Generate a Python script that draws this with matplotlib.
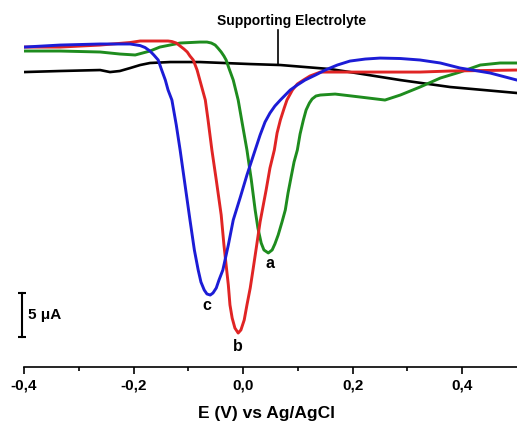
import matplotlib
matplotlib.use("Agg")
import matplotlib.pyplot as plt
from matplotlib.ticker import FixedLocator, FuncFormatter

plt.rcParams['font.family'] = ['Liberation Sans', 'DejaVu Sans']

# potential (V vs Ag/AgCl) and current (uA)
E_a = [-0.400, -0.334, -0.261, -0.225, -0.197, -0.170, -0.152, -0.115, -0.079, -0.066,
       -0.058, -0.051, -0.046, -0.040, -0.035, -0.031, -0.026, -0.018, -0.009, -0.002,
       0.007, 0.015, 0.022, 0.027, 0.033, 0.038, 0.046, 0.053, 0.058, 0.064,
       0.071, 0.077, 0.082, 0.088, 0.093, 0.099, 0.104, 0.110, 0.115, 0.121,
       0.126, 0.133, 0.141, 0.168, 0.214, 0.259, 0.287, 0.323, 0.360, 0.396,
       0.433, 0.469, 0.500]
I_a = [-1.25, -1.25, -1.36, -1.59, -1.70, -1.25, -0.80, -0.34, -0.23, -0.23,
       -0.34, -0.57, -0.91, -1.36, -1.82, -2.27, -3.18, -4.55, -6.82, -9.32,
       -12.50, -15.91, -19.32, -21.36, -23.07, -23.86, -24.20, -23.86, -23.18, -22.16,
       -20.68, -19.32, -17.39, -15.45, -13.86, -12.50, -10.68, -9.09, -7.95, -7.16,
       -6.70, -6.36, -6.25, -6.14, -6.48, -6.82, -6.25, -5.34, -4.32, -3.64,
       -2.84, -2.61, -2.61]

E_b = [-0.400, -0.334, -0.261, -0.206, -0.188, -0.152, -0.137, -0.130, -0.122, -0.115,
       -0.108, -0.102, -0.097, -0.091, -0.084, -0.079, -0.073, -0.069, -0.064, -0.057,
       -0.049, -0.040, -0.035, -0.031, -0.027, -0.024, -0.020, -0.015, -0.009, -0.004,
       0.002, 0.007, 0.013, 0.018, 0.024, 0.031, 0.042, 0.049, 0.057, 0.062,
       0.068, 0.075, 0.080, 0.090, 0.099, 0.110, 0.122, 0.141, 0.195, 0.250,
       0.323, 0.378, 0.500]
I_b = [-0.80, -0.80, -0.57, -0.28, -0.11, -0.11, -0.11, -0.17, -0.34, -0.68,
       -1.02, -1.36, -1.82, -2.27, -3.41, -4.55, -5.91, -6.82, -9.09, -12.50,
       -15.91, -19.89, -23.30, -25.57, -27.84, -30.11, -31.59, -32.73, -33.30, -32.95,
       -31.82, -30.11, -28.18, -26.14, -23.64, -20.68, -17.05, -14.55, -12.50, -10.57,
       -9.09, -7.73, -6.82, -5.68, -5.00, -4.55, -4.09, -3.64, -3.64, -3.64,
       -3.64, -3.52, -3.41]

E_c = [-0.400, -0.334, -0.261, -0.206, -0.188, -0.179, -0.170, -0.163, -0.155, -0.150,
       -0.142, -0.137, -0.130, -0.122, -0.115, -0.106, -0.097, -0.089, -0.082, -0.077,
       -0.071, -0.066, -0.060, -0.055, -0.049, -0.044, -0.037, -0.027, -0.018, -0.005,
       0.007, 0.022, 0.031, 0.040, 0.049, 0.058, 0.068, 0.086, 0.099, 0.113,
       0.132, 0.150, 0.172, 0.195, 0.223, 0.250, 0.287, 0.323, 0.360, 0.396,
       0.451, 0.500]
I_c = [-0.80, -0.57, -0.45, -0.45, -0.63, -0.85, -1.25, -1.70, -2.27, -3.18,
       -4.55, -5.68, -6.82, -9.66, -12.50, -16.48, -20.45, -23.86, -26.14, -27.50,
       -28.41, -28.86, -28.98, -28.75, -28.18, -27.27, -26.14, -23.30, -20.45, -17.84,
       -15.34, -12.50, -10.80, -9.32, -8.30, -7.50, -6.82, -5.68, -5.11, -4.55,
       -3.98, -3.41, -2.84, -2.39, -2.16, -2.05, -2.10, -2.27, -2.61, -3.18,
       -3.75, -4.55]

E_blank = [-0.400, -0.334, -0.261, -0.243, -0.225, -0.206, -0.188, -0.170, -0.133, -0.079,
           0.013, 0.068, 0.159, 0.195, 0.287, 0.378, 0.500]
I_blank = [-3.64, -3.52, -3.41, -3.64, -3.52, -3.18, -2.84, -2.61, -2.50, -2.50,
           -2.73, -2.84, -3.30, -3.64, -4.55, -5.34, -6.02]

major_ticks = [-0.4, -0.2, 0.0, 0.2, 0.4]
minor_ticks = [-0.3, -0.1, 0.1, 0.3]

fig = plt.figure(figsize=(5.17, 4.23), dpi=100)
ax = fig.add_axes([24 / 517, 56 / 423, 493 / 517, 367 / 423])

ax.plot(E_blank, I_blank, color='black', lw=1.9)
ax.plot(E_a, I_a, color='#1e8c1e', lw=2.1)
ax.plot(E_b, I_b, color='#e02424', lw=2.1)
ax.plot(E_c, I_c, color='#1c1cd6', lw=2.1)

ax.set_xlim(-0.4, 0.5)
ax.set_ylim(-37.16, 4.55)

for side in ['left', 'right', 'top']:
    ax.spines[side].set_visible(False)
ax.spines['bottom'].set_linewidth(1.2)
ax.set_yticks([])
ax.xaxis.set_major_locator(FixedLocator(major_ticks))
ax.xaxis.set_minor_locator(FixedLocator(minor_ticks))
ax.xaxis.set_major_formatter(FuncFormatter(lambda v, p: f"{v:.1f}".replace('.', ',').replace('-0,0', '0,0')))
ax.tick_params(axis='x', which='major', length=5, width=1.2, pad=3, labelsize=11)
ax.tick_params(axis='x', which='minor', length=3, width=1.2)
for lab in ax.get_xticklabels():
    lab.set_fontweight('bold')

fig.text(0.515, 1 - 413 / 423, 'E (V) vs Ag/AgCl', ha='center', va='center',
         fontsize=12.5, fontweight='bold')

# supporting electrolyte label with leader line
ax.text(0.088, 2.2, 'Supporting Electrolyte', ha='center', va='center',
        fontsize=10, fontweight='bold')
ax.plot([0.064, 0.064], [1.1, -2.8], color='black', lw=1.2)

# peak labels
ax.text(0.049, -25.4, 'a', ha='center', va='center', fontsize=11.5, fontweight='bold')
ax.text(-0.009, -34.8, 'b', ha='center', va='center', fontsize=11.5, fontweight='bold')
ax.text(-0.066, -30.2, 'c', ha='center', va='center', fontsize=11.5, fontweight='bold')

# 5 uA scale bar
ax.plot([-0.404, -0.404], [-28.75, -33.75], color='black', lw=1.5, clip_on=False,
        marker='_', markersize=6, markeredgewidth=1.5)
ax.text(-0.393, -31.25, '5 μA', ha='left', va='center', fontsize=11, fontweight='bold')

fig.savefig('out.png', dpi=100)
